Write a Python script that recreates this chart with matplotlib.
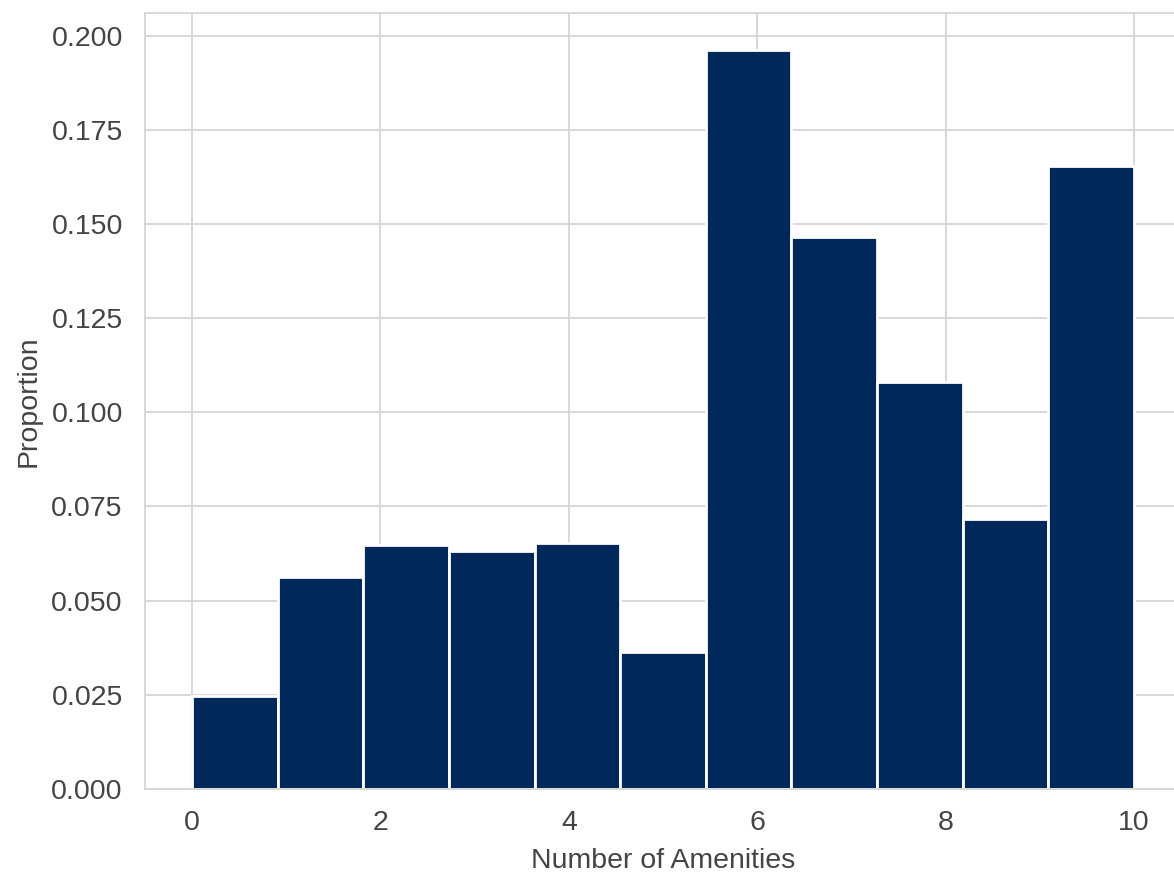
import numpy as np
import matplotlib
matplotlib.use('Agg')
import matplotlib.pyplot as plt
import seaborn as sns

# proporciones por bin (11 bins entre 0 y 10 amenidades)
proporciones = [0.0247, 0.0564, 0.0649, 0.0633, 0.0654, 0.0364,
                0.1962, 0.1465, 0.1080, 0.0718, 0.1654]
n_min, n_max = 0, 10

sns.set_style('whitegrid')
plt.rcParams['font.family'] = ['Liberation Sans', 'DejaVu Sans']

fig = plt.figure(figsize=(11.74, 8.73), dpi=100)
ax = fig.add_axes([0.1235, 0.0962, 0.8825, 0.889])

bordes = np.linspace(n_min, n_max, len(proporciones) + 1)
ax.bar(bordes[:-1], proporciones, width=np.diff(bordes), align='edge',
       color='#00285a', edgecolor='white', linewidth=2, zorder=2)

ax.set_xlim(-0.5, 10.5)
ax.set_ylim(0, max(proporciones) * 1.05)
ax.set_xticks(range(0, 11, 2))
ax.set_yticks(np.arange(0, 0.2001, 0.025))
ax.yaxis.set_major_formatter(matplotlib.ticker.FormatStrFormatter('%.3f'))

ax.tick_params(labelsize=20.5, colors='#444444', length=0)
ax.tick_params(axis='y', pad=16)
ax.tick_params(axis='x', pad=15)
ax.set_xlabel('Number of Amenities', fontsize=20.5, color='#444444', labelpad=9)
ax.set_ylabel('Proportion', fontsize=20.5, color='#444444', labelpad=7)
ax.grid(color='#d6d6d6', linewidth=1.3)
for s in ax.spines.values():
    s.set_color('#d6d6d6')
    s.set_linewidth(1.3)

fig.savefig('out.png', dpi=100)
